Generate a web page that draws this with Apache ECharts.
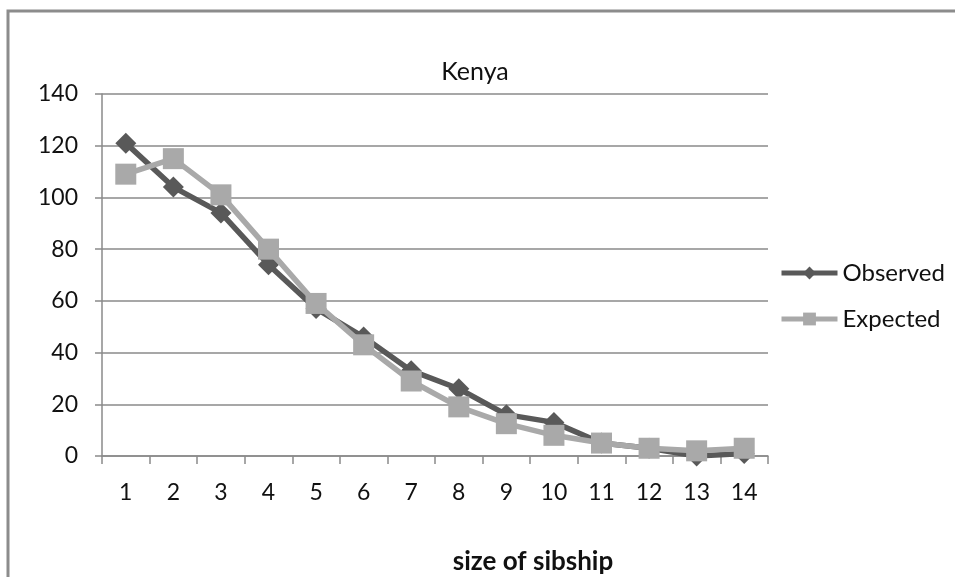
<!DOCTYPE html>
<html>
<head>
<meta charset="utf-8">
<script src="https://cdn.jsdelivr.net/npm/echarts@6/dist/echarts.min.js"></script>
<style>
  html, body { margin: 0; padding: 0; background: #fff; }
  #chart { width: 955px; height: 577px; }
</style>
</head>
<body>
<div id="chart"></div>
<script>
// Sibship sizes (category axis)
const sibshipSizes = ['1', '2', '3', '4', '5', '6', '7', '8', '9', '10', '11', '12', '13', '14'];
// Observed counts per sibship size
const observed = [121, 104, 94, 74, 57, 46, 33, 26, 16, 13, 5, 3, 0, 1];
// Expected counts per sibship size
const expected = [109, 115, 101, 80, 59, 43, 29, 19, 12.5, 8, 5, 3, 2, 3];
// Value axis ticks
const yTicks = [0, 20, 40, 60, 80, 100, 120, 140];

const FONT = 'Lato, "Open Sans", sans-serif';
const AXIS_GREY = '#8a8a8a';

const chart = echarts.init(document.getElementById('chart'), null, { renderer: 'canvas' });

chart.setOption({
  animation: false,
  backgroundColor: '#ffffff',
  title: {
    text: 'Kenya',
    left: 475,
    top: 59,
    padding: 0,
    textAlign: 'center',
    textStyle: { fontFamily: FONT, fontSize: 25, fontWeight: 'normal', color: '#111' }
  },
  graphic: [
    {
      type: 'rect',
      shape: { x: 8, y: 11, width: 1000, height: 620 },
      style: { fill: 'none', stroke: '#8c8c8c', lineWidth: 3 },
      silent: true
    },
    {
      type: 'text',
      style: {
        text: 'size of sibship',
        x: 533,
        y: 562,
        textAlign: 'center',
        textVerticalAlign: 'middle',
        fontFamily: FONT,
        fontSize: 26,
        fontWeight: 'bold',
        fill: '#111'
      }
    }
  ],
  legend: {
    orient: 'vertical',
    left: 779,
    top: 261,
    padding: 0,
    itemWidth: 56,
    itemHeight: 16,
    itemGap: 22,
    lineStyle: { width: 5 },
    textStyle: { fontFamily: FONT, fontSize: 24, color: '#111' },
    data: ['Observed', 'Expected']
  },
  grid: {
    left: 102,
    right: 187,
    top: 94,
    bottom: 121,
    containLabel: false
  },
  xAxis: {
    type: 'category',
    data: sibshipSizes,
    boundaryGap: true,
    axisLine: { lineStyle: { color: AXIS_GREY, width: 1.5 } },
    axisTick: { show: true, length: 8, alignWithLabel: false, lineStyle: { color: AXIS_GREY, width: 1.5 } },
    axisLabel: { margin: 25, fontFamily: FONT, fontSize: 23, color: '#111' },
    splitLine: { show: false }
  },
  yAxis: {
    type: 'value',
    min: yTicks[0],
    max: yTicks[yTicks.length - 1],
    interval: 20,
    axisLine: { show: true, lineStyle: { color: AXIS_GREY, width: 1.5 } },
    axisTick: { show: true, inside: false, length: 7, lineStyle: { color: AXIS_GREY, width: 1.5 } },
    axisLabel: { margin: 24, fontFamily: FONT, fontSize: 23, color: '#111' },
    splitLine: { show: true, lineStyle: { color: AXIS_GREY, width: 1.5 } }
  },
  series: [
    {
      name: 'Observed',
      type: 'line',
      data: observed,
      z: 3,
      symbol: 'diamond',
      symbolSize: 21,
      showAllSymbol: true,
      lineStyle: { color: '#595959', width: 5.5 },
      itemStyle: { color: '#595959' }
    },
    {
      name: 'Expected',
      type: 'line',
      data: expected,
      z: 4,
      symbol: 'rect',
      symbolSize: 21,
      showAllSymbol: true,
      lineStyle: { color: '#a9a9a9', width: 5.5 },
      itemStyle: { color: '#a9a9a9' }
    }
  ]
});
</script>
</body>
</html>
